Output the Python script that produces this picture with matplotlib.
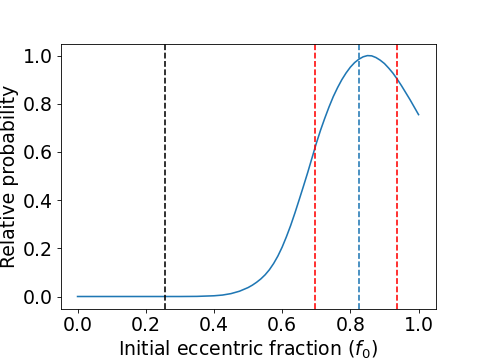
import numpy as np
import matplotlib
matplotlib.use('Agg')
import matplotlib.pyplot as plt

# curve
f0 = [0.0, 0.1, 0.2, 0.3, 0.35, 0.40, 0.425, 0.45, 0.475, 0.50, 0.5125, 0.525,
      0.5375, 0.55, 0.5625, 0.575, 0.5875, 0.60, 0.6125, 0.625, 0.6375, 0.65,
      0.6625, 0.675, 0.6875, 0.70, 0.7125, 0.725, 0.7375, 0.75, 0.7625, 0.775,
      0.7875, 0.80, 0.8125, 0.825, 0.8375, 0.85, 0.8625, 0.875, 0.8875,
      0.90, 0.9125, 0.925, 0.9375, 0.95, 0.9625, 0.975, 0.9875, 1.0]
prob = [0.0, 0.0, 0.0, 0.0, 0.0005, 0.003, 0.006, 0.012, 0.022, 0.037, 0.047, 0.059,
        0.073, 0.090, 0.111, 0.137, 0.168, 0.205, 0.248, 0.295, 0.347, 0.402,
        0.458, 0.515, 0.575, 0.635, 0.69, 0.74, 0.787, 0.83, 0.867, 0.90,
        0.928, 0.952, 0.971, 0.985, 0.995, 1.0, 0.999, 0.992, 0.981,
        0.967, 0.948, 0.927, 0.902, 0.875, 0.846, 0.817, 0.786, 0.755]

f_black = 0.255         # black dashed line
f_red = [0.695, 0.937]  # red dashed lines
f_peak = 0.824          # blue dashed line

plt.rcParams['font.size'] = 18

fig, ax = plt.subplots(figsize=(6.4, 4.8), dpi=75.625)
ax.plot(f0, prob, color='C0')
ax.axvline(f_black, color='k', linestyle='--')
for f in f_red:
    ax.axvline(f, color='r', linestyle='--')
ax.axvline(f_peak, color='C0', linestyle='--')

ax.set_xlabel('Initial eccentric fraction ($f_0$)')
ax.set_ylabel('Relative probability')
ax.set_xticks(np.arange(0, 1.01, 0.2))
ax.set_yticks(np.arange(0, 1.01, 0.2))
fig.subplots_adjust(bottom=0.15)

fig.savefig('out.png', dpi=75.625)
